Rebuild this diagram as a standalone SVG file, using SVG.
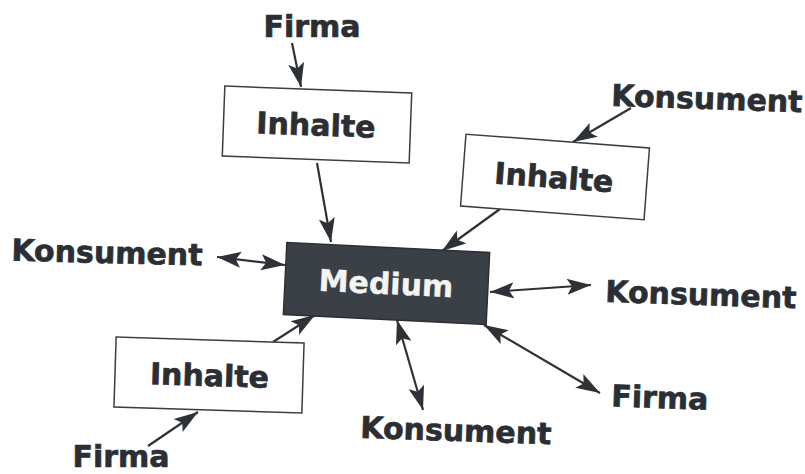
<svg xmlns="http://www.w3.org/2000/svg" width="805" height="474" viewBox="0 0 805 474">
<style>
.lbl{font-family:"DejaVu Sans","Liberation Sans",sans-serif;font-weight:bold;font-size:30px;fill:#2b2f34;stroke:#2b2f34;stroke-width:0.7;text-anchor:middle}
.box{fill:#ffffff;stroke:#3a3e44;stroke-width:1.5}
.dark{fill:#3b4046;stroke:#2b2f34;stroke-width:1.5}
.wt{fill:#f4f4f2;stroke:#f4f4f2;stroke-width:0.4}
.con{stroke:#2e3237;stroke-width:2.2;fill:none}
</style>
<defs>
<marker id="ah" markerUnits="userSpaceOnUse" markerWidth="26" markerHeight="18" refX="24" refY="8" orient="auto-start-reverse" viewBox="0 0 26 16">
<path d="M0,0 L24,8 L0,16 L5,8 z" fill="#2e3237"/>
</marker>
</defs>
<rect width="805" height="474" fill="#ffffff"/>
<g id="connectors">
<line class="con" x1="292" y1="43" x2="301" y2="87" marker-end="url(#ah)"/>
<line class="con" x1="317" y1="163" x2="331" y2="242" marker-end="url(#ah)"/>
<line class="con" x1="631" y1="108" x2="573" y2="142" marker-end="url(#ah)"/>
<line class="con" x1="500" y1="209" x2="442" y2="251" marker-end="url(#ah)"/>
<line class="con" x1="217" y1="257" x2="285" y2="265" marker-start="url(#ah)" marker-end="url(#ah)"/>
<line class="con" x1="490" y1="292" x2="591" y2="285" marker-start="url(#ah)" marker-end="url(#ah)"/>
<line class="con" x1="484" y1="325" x2="600" y2="393" marker-start="url(#ah)" marker-end="url(#ah)"/>
<line class="con" x1="397" y1="320" x2="423" y2="410" marker-start="url(#ah)" marker-end="url(#ah)"/>
<line class="con" x1="273" y1="342" x2="315" y2="315" marker-end="url(#ah)"/>
<line class="con" x1="148" y1="446" x2="198" y2="412" marker-end="url(#ah)"/>
</g>
<g id="inhalte-top" transform="rotate(2.1 317 124.5)">
<rect class="box" x="223.5" y="89.5" width="187" height="70"/>
<text class="lbl" x="316" y="135.5">Inhalte</text>
</g>
<g id="inhalte-right" transform="rotate(4.3 555 177)">
<rect class="box" x="463" y="141" width="184" height="72"/>
<text class="lbl" x="554" y="188">Inhalte</text>
</g>
<g id="medium" transform="rotate(2.8 386.5 283.5)">
<rect class="dark" x="285" y="247.5" width="203" height="72"/>
<text class="lbl wt" x="386" y="294">Medium</text>
</g>
<g id="inhalte-bottom" transform="rotate(1.8 209 375)">
<rect class="box" x="115" y="340" width="188" height="70"/>
<text class="lbl" x="209.5" y="386">Inhalte</text>
</g>
<g id="firma-top"><text class="lbl" x="312" y="37">Firma</text></g>
<g id="konsument-topright" transform="rotate(2 707 98)"><text class="lbl" x="707" y="109">Konsument</text></g>
<g id="konsument-left" transform="rotate(1.5 107 252)"><text class="lbl" x="107" y="263">Konsument</text></g>
<g id="konsument-right" transform="rotate(2 701 293)"><text class="lbl" x="701" y="305">Konsument</text></g>
<g id="firma-right" transform="rotate(2 660 396)"><text class="lbl" x="660" y="408">Firma</text></g>
<g id="konsument-bottom" transform="rotate(2 456 429)"><text class="lbl" x="456" y="441">Konsument</text></g>
<g id="firma-bottom"><text class="lbl" x="121" y="467">Firma</text></g>
</svg>
